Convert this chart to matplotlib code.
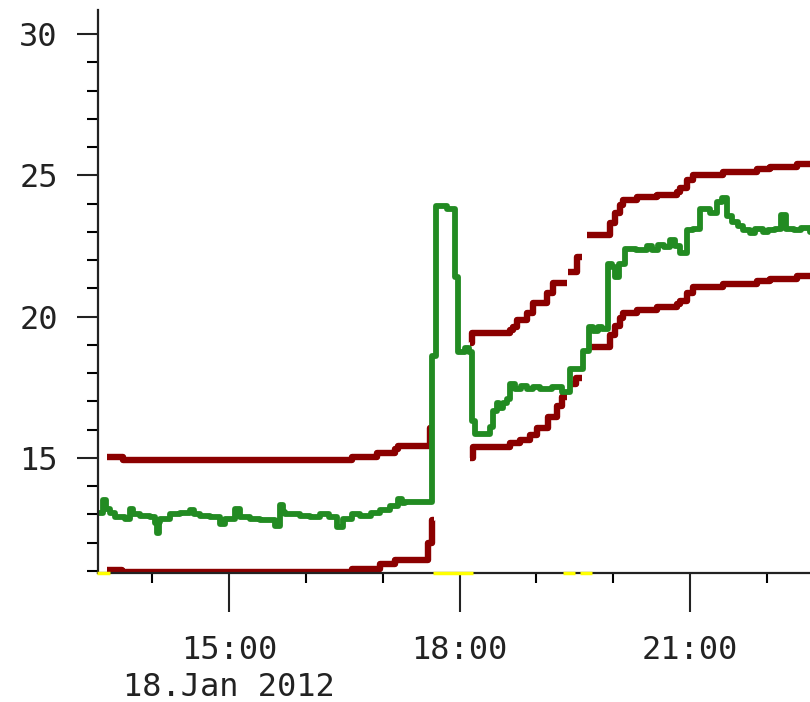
import numpy as np
import matplotlib
matplotlib.use("Agg")
import matplotlib.pyplot as plt
import matplotlib.dates as mdates
import matplotlib.transforms as mtransforms

# hours of 18 Jan 2012 and values
upper_t = [13.41, 13.62, 16.60, 16.93, 17.16, 17.20, 17.61, 17.65,
           18.14, 18.16, 18.66, 18.70, 18.75, 18.88, 18.96, 19.14, 19.22, 19.31, 19.40,
           19.41, 19.53, 19.60,
           19.66, 19.96, 20.02, 20.09, 20.13, 20.31, 20.57, 20.83, 20.87, 20.96, 21.04,
           21.43, 21.87, 22.04, 22.39, 22.70]
upper_v = [15.04, 14.93, 15.03, 15.18, 15.32, 15.42, 16.06, np.nan,
           19.07, 19.42, 19.53, 19.63, 19.88, 20.13, 20.48, 20.84, 21.19, 21.19, np.nan,
           21.58, 22.11, np.nan,
           22.89, 23.31, 23.67, 23.95, 24.13, 24.23, 24.30, 24.41, 24.55, 24.83, 25.01,
           25.12, 25.22, 25.29, 25.40, 25.40]

lower_t = [13.41, 13.61, 16.60, 16.96, 17.16, 17.59, 17.64, 17.67,
           18.14, 18.17, 18.66, 18.79, 18.92, 19.01, 19.15, 19.27, 19.34, 19.40,
           19.45, 19.52, 19.60,
           19.70, 19.96, 20.02, 20.09, 20.13, 20.31, 20.57, 20.83, 20.87, 20.96, 21.04,
           21.43, 21.87, 22.04, 22.39, 22.70]
lower_v = [11.04, 10.97, 11.07, 11.25, 11.39, 12.00, 12.81, np.nan,
           15.00, 15.39, 15.53, 15.64, 15.81, 16.06, 16.45, 16.84, 17.16, np.nan,
           17.60, 17.83, np.nan,
           18.93, 19.35, 19.67, 19.95, 20.13, 20.24, 20.34, 20.45, 20.55, 20.83, 21.05,
           21.15, 21.26, 21.32, 21.42, 21.42]

mean_t = [13.295, 13.36, 13.40, 13.45, 13.52, 13.65, 13.71, 13.75, 13.84, 13.97,
          14.04, 14.06, 14.09, 14.10, 14.23, 14.36, 14.49, 14.55, 14.62, 14.75,
          14.88, 14.95, 15.08, 15.14, 15.27, 15.40, 15.53, 15.60, 15.66, 15.70,
          15.73, 15.92, 16.05, 16.18, 16.30, 16.41, 16.48, 16.60, 16.71, 16.85,
          16.97, 17.10, 17.20, 17.25, 17.29, 17.64, 17.69, 17.84, 17.94, 17.98,
          18.07, 18.12, 18.16, 18.20, 18.40, 18.43, 18.49, 18.52, 18.56, 18.62,
          18.66, 18.72, 18.80, 18.88, 18.96, 19.05, 19.20, 19.33, 19.44, 19.61,
          19.68, 19.74, 19.80, 19.86, 19.93, 19.98, 20.03, 20.08, 20.15, 20.30,
          20.44, 20.50, 20.58, 20.66, 20.74, 20.80, 20.87, 20.96, 21.04, 21.13,
          21.26, 21.35, 21.42, 21.48, 21.55, 21.62, 21.69, 21.78, 21.85, 21.95,
          22.02, 22.10, 22.19, 22.25, 22.35, 22.45, 22.56, 22.70]
mean_v = [13.05, 13.50, 13.20, 13.05, 12.90, 12.85, 13.20, 13.00, 12.95, 12.90,
          12.70, 12.35, 12.75, 12.85, 13.00, 13.05, 13.15, 13.00, 12.95, 12.90,
          12.65, 12.85, 13.20, 12.90, 12.85, 12.80, 12.80, 12.60, 13.35, 13.10,
          13.00, 12.95, 12.90, 13.00, 12.90, 12.55, 12.85, 13.00, 12.95, 13.05,
          13.15, 13.30, 13.55, 13.40, 13.44, 18.60, 23.90, 23.80, 21.40, 18.76,
          18.88, 18.76, 16.30, 15.85, 16.10, 16.65, 16.95, 16.75, 16.95, 17.10,
          17.60, 17.45, 17.55, 17.45, 17.50, 17.45, 17.50, 17.35, 18.15, 18.80,
          19.65, 19.50, 19.65, 19.55, 21.85, 21.75, 21.40, 21.85, 22.40, 22.35,
          22.50, 22.35, 22.55, 22.45, 22.70, 22.50, 22.25, 23.05, 23.10, 23.80,
          23.65, 24.05, 24.20, 23.55, 23.35, 23.20, 23.05, 22.95, 23.10, 23.00,
          23.05, 23.10, 23.60, 23.10, 23.05, 23.15, 23.00, 23.00]

# yellow marks on the time axis (start, end hour)
gap_spans = [(13.28, 13.45), (17.66, 18.18), (19.35, 19.50), (19.57, 19.72)]

y_major = [15, 20, 25, 30]
date_label = "18.Jan 2012"

base = np.datetime64("2012-01-18T00:00:00")


def to_time(hours):
    return base + (np.asarray(hours) * 3600).astype("timedelta64[s]")


plt.rcParams["font.family"] = ["DejaVu Sans Mono", "DejaVu Sans"]
dark_red = "#8b0000"
green = "#228b22"

fig = plt.figure(figsize=(8.1, 7.02), dpi=100)
ax = fig.add_axes([0.121, 0.1838, 0.879, 0.802])

ax.plot(to_time(upper_t), upper_v, color=dark_red, lw=4.6, drawstyle="steps-post",
        solid_capstyle="butt")
ax.plot(to_time(lower_t), lower_v, color=dark_red, lw=4.6, drawstyle="steps-post",
        solid_capstyle="butt")
ax.plot(to_time(mean_t), mean_v, color=green, lw=4.2, drawstyle="steps-post")

trans = mtransforms.blended_transform_factory(ax.transData, ax.transAxes)
for a, b in gap_spans:
    ax.plot(to_time([a, b]), [0, 0], color="#ffff00", lw=2.5, transform=trans,
            clip_on=False, zorder=5, solid_capstyle="butt")

ax.set_xlim(to_time(13.295), to_time(22.562))
ax.set_ylim(10.93, 30.85)

ax.xaxis.set_major_locator(mdates.HourLocator(byhour=[15, 18, 21]))
ax.xaxis.set_minor_locator(mdates.HourLocator())


def fmt_time(x, pos):
    s = mdates.num2date(x).strftime("%H:%M")
    if pos == 0:
        s += "\n" + date_label
    return s


ax.xaxis.set_major_formatter(plt.FuncFormatter(fmt_time))
ax.set_yticks(y_major)
ax.set_yticks(np.arange(11, 31), minor=True)

for side in ["top", "right"]:
    ax.spines[side].set_visible(False)
for side in ["left", "bottom"]:
    ax.spines[side].set_linewidth(1.6)
    ax.spines[side].set_color("#222222")

ax.tick_params(axis="x", which="major", length=28, width=1.5, pad=17,
               labelsize=23, colors="#222222")
ax.tick_params(axis="x", which="minor", length=7, width=1.5)
ax.tick_params(axis="y", which="major", length=15, width=1.5, pad=14,
               labelsize=23, colors="#222222")
ax.tick_params(axis="y", which="minor", length=8, width=1.5)
fig.canvas.draw()
for lab in ax.get_xticklabels():
    lab.set_multialignment("center")
    lab.set_linespacing(1.22)

fig.savefig("out.png", dpi=100)
